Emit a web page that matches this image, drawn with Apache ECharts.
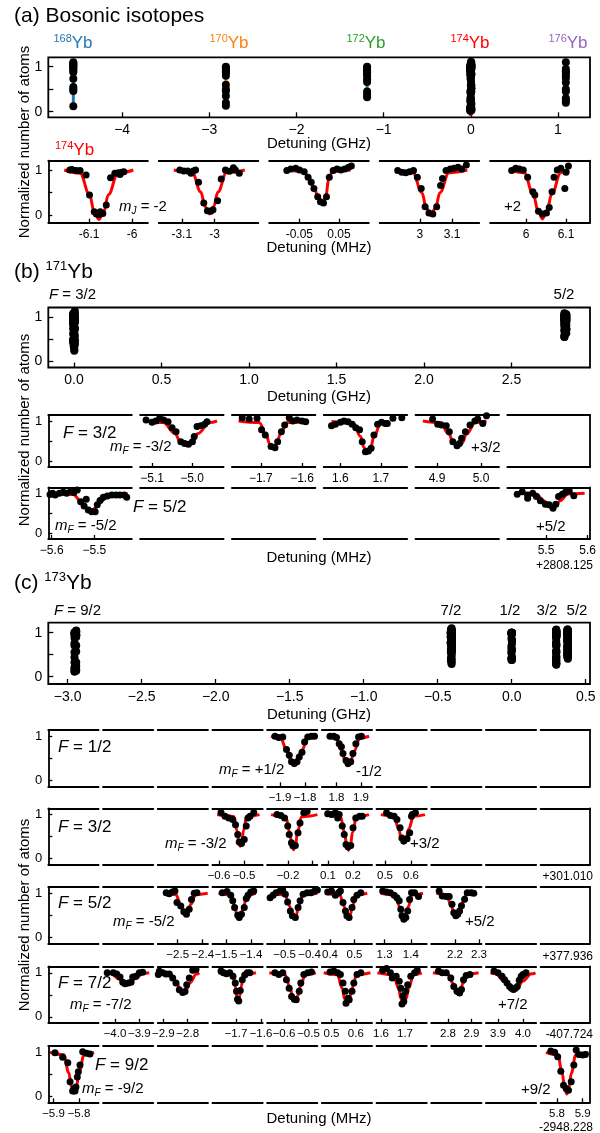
<!DOCTYPE html>
<html>
<head>
<meta charset="utf-8">
<script src="https://cdn.jsdelivr.net/npm/echarts@6/dist/echarts.min.js"></script>
<style>
html, body { margin: 0; padding: 0; background: #fff; }
#chart { width: 600px; height: 1133px; }
</style>
</head>
<body>
<div id="chart"></div>
<script>
// ---------------- data ----------------
const yTickVals = [0, 0.5, 1];
const yTickText = [0, 1];

const aGHzTicks = [-4, -3, -2, -1, 0, 1];
const aGHzLabels = ['−4', '−3', '−2', '−1', '0', '1'];
const bGHzTicks = [0, 0.5, 1, 1.5, 2, 2.5];
const bGHzLabels = ['0.0', '0.5', '1.0', '1.5', '2.0', '2.5'];
const cGHzTicks = [-3, -2.5, -2, -1.5, -1, -0.5, 0, 0.5];
const cGHzLabels = ['−3.0', '−2.5', '−2.0', '−1.5', '−1.0', '−0.5', '0.0', '0.5'];

// (a) bosonic isotopes: column position (GHz) and fit minimum; 174 comes from the m_J scans
const isoMass = ['168', '170', '172', '174', '176'];
const isoPos = [-4.56, -2.81, -1.19, 0, 1.09];
const isoFitMin = [0.04, 0.12, 0.3, null, 0.15];
const yb168 = [1.10, 1.08, 1.05, 1.03, 1.0, 0.98, 0.95, 0.92, 0.88, 0.73, 0.55, 0.50, 0.46, 0.12];
const yb170 = [1.0, 0.98, 0.96, 0.93, 0.90, 0.86, 0.80, 0.60, 0.50, 0.46, 0.35, 0.20, 0.13];
const yb172 = [1.0, 0.98, 0.95, 0.92, 0.88, 0.84, 0.80, 0.72, 0.66, 0.45, 0.38, 0.32];
const yb176 = [1.10, 0.95, 0.90, 0.86, 0.80, 0.75, 0.65, 0.50, 0.45, 0.30, 0.25, 0.20];

// 174Yb m_J scans (MHz, normalized atoms)
const a0Dots = [[-6.145,1.00],[-6.140,1.01],[-6.130,0.99],[-6.121,0.99],[-6.107,0.89],[-6.099,0.45],[-6.088,0.08],[-6.083,0.03],[-6.078,0.02],[-6.074,0.08],[-6.068,0.04],[-6.060,0.23],[-6.050,0.83],[-6.040,0.93],[-6.032,0.94],[-6.028,0.90],[-6.024,0.95],[-6.019,0.96]];
const a0Fit = [[-6.158,1],[-6.121,0.93],[-6.099,0.455],[-6.088,0.08],[-6.077,-0.09],[-6.066,0.08],[-6.055,0.455],[-6.033,0.93],[-5.997,1]];
const a1Dots = [[-3.106,1.00],[-3.094,0.98],[-3.082,0.98],[-3.072,0.93],[-3.065,0.98],[-3.058,1.00],[-3.049,0.73],[-3.033,0.27],[-3.022,0.10],[-3.012,0.09],[-3.005,0.12],[-2.991,0.32],[-2.980,0.80],[-2.967,1.00],[-2.955,0.97],[-2.943,1.05],[-2.937,1.00],[-2.925,0.93]];
const a1Fit = [[-3.124,1],[-3.068,0.94],[-3.042,0.515],[-3.029,0.19],[-3.016,0.03],[-3.003,0.19],[-2.990,0.515],[-2.964,0.94],[-2.908,1]];
const a2Dots = [[-0.0816,0.99],[-0.0718,1.02],[-0.0591,1.04],[-0.0495,1.00],[-0.0378,0.96],[-0.028,0.84],[-0.0201,0.73],[-0.0133,0.59],[-0.0037,0.41],[0.0032,0.30],[0.0108,0.27],[0.0184,0.41],[0.0254,0.84],[0.0353,0.99],[0.0449,1.02],[0.0548,1.00],[0.0646,1.02],[0.074,1.06],[0.081,1.09]];
const a2Fit = [[-0.0865,1],[-0.04,0.97],[-0.025,0.8],[-0.012,0.58],[-0.002,0.38],[0.007,0.24],[0.016,0.4],[0.024,0.78],[0.033,0.97],[0.079,1]];
const a3Dots = [[2.931,0.99],[2.944,0.95],[2.956,0.94],[2.968,0.96],[2.980,0.99],[2.992,0.84],[3.004,0.59],[3.016,0.19],[3.028,0.05],[3.040,0.03],[3.052,0.19],[3.064,0.66],[3.070,0.81],[3.081,0.99],[3.094,1.02],[3.106,1.04],[3.118,1.06],[3.130,1.02],[3.144,1.11]];
const a3Fit = [[2.925,1],[2.978,0.94],[3.006,0.5],[3.020,0.16],[3.034,0.0],[3.048,0.16],[3.062,0.5],[3.090,0.94],[3.147,1]];
const a4Dots = [[5.964,0.99],[5.974,1.04],[5.983,1.02],[5.993,1.00],[6.004,0.84],[6.017,0.52],[6.022,0.45],[6.031,0.09],[6.041,0.03],[6.051,0.05],[6.058,0.17],[6.065,0.52],[6.070,0.84],[6.078,1.00],[6.087,1.04],[6.097,0.59],[6.100,0.95],[6.106,1.09]];
const a4Fit = [[5.959,1],[5.995,0.94],[6.018,0.46],[6.030,0.1],[6.041,-0.08],[6.052,0.1],[6.064,0.46],[6.087,0.94],[6.108,1]];

// 171Yb
const bHyperfineGHz = [0, 2.808125];
const b1Dots = [[-5.115,1.025],[-5.100,0.97],[-5.0905,1.00],[-5.081,1.07],[-5.071,1.025],[-5.060,0.98],[-5.050,0.83],[-5.040,0.73],[-5.028,0.48],[-5.0185,0.44],[-5.009,0.42],[-4.999,0.48],[-4.9945,0.61],[-4.9875,0.86],[-4.978,0.88],[-4.9685,0.92],[-4.9625,0.98]];
const b1Fit = [[-5.12,1],[-5.072,0.96],[-5.043,0.69],[-5.029,0.48],[-5.014,0.38],[-4.999,0.48],[-4.985,0.69],[-4.956,0.96],[-4.9375,1]];
const b2Dots = [[-1.745,1.08],[-1.728,1.05],[-1.709,1.07],[-1.698,0.78],[-1.689,0.65],[-1.675,0.36],[-1.6655,0.33],[-1.659,0.48],[-1.650,0.73],[-1.642,0.90],[-1.631,1.08],[-1.622,1.00],[-1.612,1.025],[-1.600,1.00],[-1.591,0.98]];
const b2Fit = [[-1.754,1],[-1.704,0.96],[-1.687,0.665],[-1.679,0.44],[-1.670,0.33],[-1.661,0.44],[-1.653,0.665],[-1.636,0.96],[-1.586,1]];
const b3Dots = [[1.578,0.88],[1.5876,0.92],[1.600,0.97],[1.609,1.00],[1.619,0.98],[1.629,0.92],[1.638,0.83],[1.6475,0.78],[1.654,0.48],[1.662,0.23],[1.6695,0.25],[1.676,0.32],[1.683,0.65],[1.692,0.92],[1.702,0.97],[1.711,0.94],[1.716,0.94],[1.730,1.07],[1.752,1.08]];
const b3Fit = [[1.578,0.99],[1.632,0.95],[1.650,0.61],[1.658,0.34],[1.6665,0.22],[1.675,0.34],[1.683,0.61],[1.70,0.95],[1.719,0.99]];
const b4Dots = [[4.890,1.05],[4.9016,0.92],[4.910,0.90],[4.921,0.88],[4.928,0.73],[4.936,0.48],[4.9455,0.38],[4.951,0.44],[4.956,0.57],[4.9645,0.73],[4.975,0.90],[4.986,1.00],[4.9925,1.05],[5.004,0.94],[5.0125,1.13]];
const b4Fit = [[4.868,1],[4.907,0.96],[4.927,0.675],[4.937,0.45],[4.947,0.35],[4.957,0.45],[4.967,0.675],[4.987,0.96],[5.0125,1]];
const b5Dots = [[-5.604,0.97],[-5.598,1.0],[-5.592,0.96],[-5.582,1.00],[-5.573,1.025],[-5.565,1.00],[-5.555,1.06],[-5.548,1.02],[-5.540,1.08],[-5.532,0.79],[-5.524,0.68],[-5.519,0.85],[-5.514,0.58],[-5.506,0.54],[-5.498,0.54],[-5.493,0.71],[-5.4866,0.82],[-5.479,0.90],[-5.4695,0.93],[-5.459,0.96],[-5.449,0.96],[-5.440,0.96],[-5.430,0.96],[-5.424,0.90]];
const b5Fit = [[-5.604,0.99],[-5.55,0.97],[-5.529,0.78],[-5.5185,0.63],[-5.508,0.56],[-5.4975,0.63],[-5.487,0.78],[-5.466,0.97],[-5.421,0.99]];
const b6Dots = [[5.431,0.975],[5.443,1.04],[5.456,0.96],[5.456,0.875],[5.468,1.00],[5.477,0.92],[5.4866,0.81],[5.4986,0.725],[5.5077,0.71],[5.5168,0.625],[5.5235,0.725],[5.530,0.92],[5.539,0.975],[5.5465,1.025],[5.5556,1.06],[5.5667,0.94]];
const b6Fit = [[5.4266,1],[5.476,0.98],[5.4954,0.815],[5.505,0.68],[5.5144,0.63],[5.524,0.68],[5.5334,0.815],[5.553,0.98],[5.5926,1]];

// 173Yb, hyperfine centres F = 9/2, 7/2, 1/2, 3/2, 5/2 (GHz)
const cHyperfineGHz = [-2.948228, -0.407724, 0, 0.301010, 0.377936];
const cOffsetText = ['-2948.228', '-407.724', '', '+301.010', '+377.936'];
const c12aDots = [[-1.920,1.00],[-1.905,0.97],[-1.889,0.985],[-1.874,0.70],[-1.863,0.57],[-1.854,0.42],[-1.843,0.38],[-1.832,0.42],[-1.823,0.53],[-1.812,0.64],[-1.8016,0.87],[-1.789,0.985],[-1.774,1.00],[-1.762,1.00]];
const c12aFit = [[-1.936,1],[-1.899,0.96],[-1.871,0.665],[-1.857,0.44],[-1.843,0.33],[-1.829,0.44],[-1.815,0.665],[-1.787,0.96],[-1.758,1]];
const c12bDots = [[1.7735,1.00],[1.789,1.00],[1.800,0.97],[1.811,0.83],[1.820,0.76],[1.8265,0.61],[1.839,0.45],[1.847,0.38],[1.858,0.42],[1.867,0.61],[1.879,0.83],[1.890,0.985],[1.902,1.00]];
const c12bFit = [[1.761,1],[1.798,0.96],[1.8225,0.665],[1.835,0.44],[1.847,0.33],[1.859,0.44],[1.8715,0.665],[1.896,0.96],[1.933,1]];
const c32aDots = [[-0.592,1.05],[-0.576,0.96],[-0.561,0.92],[-0.545,0.89],[-0.534,0.77],[-0.525,0.55],[-0.519,0.38],[-0.510,0.345],[-0.499,0.435],[-0.491,0.74],[-0.484,0.92],[-0.476,0.96],[-0.461,1.05]];
const c32aFit = [[-0.607,1],[-0.541,0.955],[-0.528,0.64],[-0.5215,0.395],[-0.515,0.28],[-0.5085,0.395],[-0.502,0.64],[-0.489,0.955],[-0.438,1]];
const c32bDots = [[-0.245,1.00],[-0.229,0.98],[-0.214,0.92],[-0.201,0.74],[-0.195,0.55],[-0.186,0.36],[-0.180,0.29],[-0.170,0.30],[-0.159,0.59],[-0.151,0.81],[-0.1355,1.04],[-0.122,1.07]];
const c32bFit = [[-0.269,1],[-0.209,0.95],[-0.193,0.6],[-0.185,0.328],[-0.177,0.2],[-0.169,0.328],[-0.161,0.6],[-0.145,0.95],[-0.080,1]];
const c32cDots = [[0.0988,1.02],[0.114,1.00],[0.1296,1.04],[0.1388,0.92],[0.1448,1.00],[0.157,0.74],[0.165,0.55],[0.172,0.32],[0.180,0.27],[0.191,0.30],[0.200,0.70],[0.211,0.92],[0.2264,0.96],[0.237,0.96]];
const c32cFit = [[0.088,1],[0.150,0.95],[0.166,0.595],[0.174,0.32],[0.182,0.19],[0.190,0.32],[0.198,0.595],[0.214,0.95],[0.264,1]];
const c32dDots = [[0.506,1.04],[0.521,0.98],[0.535,0.96],[0.546,0.89],[0.558,0.70],[0.565,0.47],[0.572,0.40],[0.585,0.45],[0.595,0.585],[0.602,0.96],[0.605,1.0],[0.617,1.04]];
const c32dFit = [[0.484,1],[0.534,0.96],[0.553,0.675],[0.5625,0.454],[0.572,0.35],[0.5815,0.454],[0.591,0.675],[0.610,0.96],[0.654,1]];
const c52aDots = [[-2.546,1.015],[-2.534,0.99],[-2.5216,1.03],[-2.511,1.05],[-2.503,0.79],[-2.4876,0.71],[-2.4756,0.58],[-2.465,0.525],[-2.454,0.64],[-2.445,0.86],[-2.434,1.00],[-2.423,1.015]];
const c52aFit = [[-2.557,1],[-2.508,0.97],[-2.488,0.75],[-2.478,0.58],[-2.468,0.5],[-2.458,0.58],[-2.448,0.75],[-2.428,0.97],[-2.38,1]];
const c52bDots = [[-1.5148,1.015],[-1.496,1.04],[-1.481,0.955],[-1.473,0.83],[-1.4656,0.68],[-1.453,0.50],[-1.447,0.45],[-1.438,0.525],[-1.427,0.68],[-1.419,0.88],[-1.412,0.955],[-1.401,1.03],[-1.389,1.05]];
const c52bFit = [[-1.53,1],[-1.482,0.96],[-1.465,0.7],[-1.4565,0.5],[-1.448,0.4],[-1.4395,0.5],[-1.431,0.7],[-1.414,0.96],[-1.381,1]];
const c52cDots = [[-0.558,0.90],[-0.546,0.955],[-0.534,1.015],[-0.518,1.05],[-0.5076,1.075],[-0.497,0.98],[-0.488,0.80],[-0.477,0.60],[-0.469,0.49],[-0.457,0.45],[-0.446,0.68],[-0.438,0.83],[-0.426,0.98],[-0.410,1.015],[-0.395,1.015],[-0.380,1.05],[-0.369,1.075]];
const c52cFit = [[-0.554,1],[-0.498,0.964],[-0.480,0.71],[-0.471,0.51],[-0.462,0.42],[-0.453,0.51],[-0.444,0.71],[-0.426,0.964],[-0.369,1]];
const c52dDots = [[0.3906,1.03],[0.406,1.05],[0.422,0.955],[0.4347,1.015],[0.4424,1.05],[0.453,0.79],[0.463,0.60],[0.469,0.49],[0.478,0.45],[0.4898,0.68],[0.497,0.86],[0.510,0.955],[0.5257,1.015]];
const c52dFit = [[0.3796,1],[0.440,0.964],[0.457,0.71],[0.4655,0.51],[0.474,0.42],[0.4825,0.51],[0.491,0.71],[0.508,0.964],[0.552,1]];
const c52eDots = [[1.2927,1.05],[1.3073,1.03],[1.322,1.015],[1.3366,0.955],[1.3473,0.90],[1.3557,0.83],[1.3618,0.64],[1.3664,0.49],[1.3733,0.41],[1.381,0.45],[1.388,0.60],[1.3954,0.86],[1.4027,1.015],[1.4145,1.015],[1.4294,0.925]];
const c52eFit = [[1.2855,1],[1.3415,0.96],[1.3575,0.69],[1.3655,0.48],[1.3735,0.38],[1.3815,0.48],[1.3895,0.69],[1.4055,0.96],[1.4466,1]];
const c52fDots = [[2.134,1.05],[2.147,0.94],[2.1633,0.925],[2.1758,0.925],[2.1875,0.75],[2.195,0.56],[2.2033,0.49],[2.2113,0.525],[2.219,0.60],[2.227,0.715],[2.240,0.865],[2.251,1.015],[2.2675,1.015],[2.278,1.00]];
const c52fFit = [[2.123,1],[2.163,0.967],[2.184,0.735],[2.1945,0.555],[2.205,0.47],[2.2155,0.555],[2.226,0.735],[2.247,0.967],[2.292,1]];
const c72aDots = [[-4.032,1.00],[-4.007,1.00],[-3.993,0.975],[-3.9794,0.906],[-3.968,0.783],[-3.9588,0.753],[-3.945,0.768],[-3.934,0.783],[-3.927,0.906],[-3.9136,0.92],[-3.900,1.00],[-3.886,1.014]];
const c72aFit = [[-4.034,1],[-4.017,0.983],[-3.984,0.865],[-3.9675,0.773],[-3.951,0.73],[-3.9345,0.773],[-3.918,0.865],[-3.885,0.983],[-3.859,1]];
const c72bDots = [[-2.9205,0.96],[-2.9164,1.037],[-2.9025,1.00],[-2.889,0.975],[-2.8754,0.975],[-2.8615,0.883],[-2.848,0.768],[-2.8344,0.614],[-2.8205,0.553],[-2.811,0.576],[-2.804,0.73],[-2.7934,0.883],[-2.7795,1.06],[-2.766,1.075]];
const c72bFit = [[-2.927,1],[-2.872,0.972],[-2.845,0.775],[-2.8315,0.622],[-2.818,0.55],[-2.8045,0.622],[-2.791,0.775],[-2.764,0.972],[-2.7525,1]];
const c72cDots = [[-1.76,1.04],[-1.75,1.0],[-1.738,0.98],[-1.725,1.0],[-1.712,0.92],[-1.703,0.77],[-1.698,0.58],[-1.694,0.40],[-1.689,0.36],[-1.683,0.60],[-1.675,0.84],[-1.665,0.95],[-1.655,1.0],[-1.645,1.0]];
const c72cFit = [[-1.77,1],[-1.713,0.96],[-1.702,0.675],[-1.6965,0.454],[-1.691,0.35],[-1.6855,0.454],[-1.68,0.675],[-1.669,0.96],[-1.62,1]];
const c72dDots = [[-0.637,1.00],[-0.621,0.96],[-0.605,1.00],[-0.590,0.84],[-0.579,0.65],[-0.569,0.46],[-0.558,0.40],[-0.550,0.385],[-0.538,0.58],[-0.5314,0.77],[-0.519,0.96],[-0.503,1.00],[-0.488,1.02]];
const c72dFit = [[-0.66,1],[-0.597,0.96],[-0.576,0.685],[-0.5655,0.47],[-0.555,0.37],[-0.5445,0.47],[-0.534,0.685],[-0.513,0.96],[-0.47,1]];
const c72eDots = [[0.4938,1.02],[0.5095,1.04],[0.5255,1.00],[0.5366,0.96],[0.5473,0.77],[0.557,0.58],[0.5597,0.31],[0.5679,0.42],[0.5728,0.385],[0.5844,0.58],[0.5918,0.77],[0.605,0.96],[0.6206,1.00]];
const c72eFit = [[0.468,1],[0.524,0.956],[0.544,0.65],[0.554,0.412],[0.564,0.3],[0.574,0.412],[0.584,0.65],[0.604,0.956],[0.66,1]];
const c72fDots = [[1.607,1.06],[1.623,1.10],[1.639,1.00],[1.647,0.88],[1.6633,0.92],[1.676,0.81],[1.6825,0.65],[1.6875,0.29],[1.6917,0.48],[1.695,0.35],[1.7033,0.58],[1.711,0.73],[1.724,0.92],[1.740,1.00],[1.751,1.06]];
const c72fFit = [[1.585,1],[1.652,0.956],[1.673,0.65],[1.6835,0.412],[1.694,0.3],[1.7045,0.412],[1.715,0.65],[1.736,0.956],[1.77,1]];
const c72gDots = [[2.7596,1.04],[2.7757,1.00],[2.7923,1.00],[2.812,0.88],[2.8247,0.69],[2.8383,0.58],[2.8494,0.54],[2.8574,0.62],[2.866,0.84],[2.8774,0.94],[2.8936,0.96]];
const c72gFit = [[2.736,1],[2.8006,0.97],[2.8216,0.76],[2.8321,0.597],[2.8426,0.52],[2.8531,0.597],[2.8636,0.76],[2.8846,0.97],[2.93,1]];
const c72hDots = [[3.884,1.04],[3.9,1.00],[3.916,0.92],[3.9264,0.84],[3.936,0.77],[3.9464,0.69],[3.954,0.65],[3.962,0.62],[3.9696,0.65],[3.977,0.69],[3.9848,0.83],[3.9928,0.92],[4.0,0.96],[4.012,1.00]];
const c72hFit = [[3.87,1],[3.89,0.976],[3.926,0.81],[3.944,0.68],[3.962,0.62],[3.98,0.68],[3.998,0.81],[4.034,0.976],[4.05,1]];
const c92aDots = [[-5.894,0.99],[-5.864,0.885],[-5.844,0.76],[-5.835,0.33],[-5.825,0.12],[-5.8196,0.175],[-5.8157,0.12],[-5.812,0.21],[-5.8067,0.44],[-5.8027,0.557],[-5.796,0.71],[-5.7855,1.01],[-5.77,0.976],[-5.757,0.96]];
const c92aFit = [[-5.913,1],[-5.86,0.942],[-5.84,0.535],[-5.83,0.22],[-5.82,0.07],[-5.81,0.22],[-5.80,0.535],[-5.78,0.942],[-5.741,1]];
const c92bDots = [[5.7759,1.03],[5.7907,1.00],[5.8027,0.90],[5.8148,0.57],[5.8253,0.25],[5.8358,0.175],[5.8447,0.137],[5.8553,0.33],[5.8654,0.71],[5.8747,1.05],[5.8848,0.95],[5.900,0.94],[5.9105,0.95]];
const c92bFit = [[5.757,1],[5.803,0.94],[5.8205,0.525],[5.829,0.2],[5.838,0.05],[5.847,0.2],[5.8555,0.525],[5.873,0.94],[5.9226,1]];

// panel tables: axis extent (MHz), ticks, labels and the data they show
const aPanels = [
  { range: [-6.195, -5.963], ticks: [-6.1, -6], labels: ['-6.1', '-6'], dots: a0Dots, fit: a0Fit },
  { range: [-3.170, -2.867], ticks: [-3.1, -3], labels: ['-3.1', '-3'], dots: a1Dots, fit: a1Fit },
  { range: [-0.126, 0.125], ticks: [-0.05, 0.05], labels: ['-0.05', '0.05'], dots: a2Dots, fit: a2Fit },
  { range: [2.875, 3.184], ticks: [3, 3.1], labels: ['3', '3.1'], dots: a3Dots, fit: a3Fit },
  { range: [5.91, 6.16], ticks: [6, 6.1], labels: ['6', '6.1'], dots: a4Dots, fit: a4Fit }
];
const bRow32 = [null,
  { range: [-5.130, -4.921], ticks: [-5.1, -5.0], labels: ['−5.1', '−5.0'], dots: b1Dots, fit: b1Fit },
  { range: [-1.770, -1.5675], ticks: [-1.7, -1.6], labels: ['−1.7', '−1.6'], dots: b2Dots, fit: b2Fit },
  { range: [1.5587, 1.7653], ticks: [1.6, 1.7], labels: ['1.6', '1.7'], dots: b3Dots, fit: b3Fit },
  { range: [4.8511, 5.0409], ticks: [4.9, 5.0], labels: ['4.9', '5.0'], dots: b4Dots, fit: b4Fit },
  null];
const bRow52 = [
  { range: [-5.608, -5.412], ticks: [-5.6, -5.5], labels: ['−5.6', '−5.5'], dots: b5Dots, fit: b5Fit },
  null, null, null, null,
  { range: [5.4072, 5.6055], ticks: [5.5, 5.6], labels: ['5.5', '5.6'], dots: b6Dots, fit: b6Fit }];

const cRow12 = [null, null, null, null,
  { range: [-1.9516, -1.7504], ticks: [-1.9, -1.8], labels: ['−1.9', '−1.8'], dots: c12aDots, fit: c12aFit },
  { range: [1.74, 1.9453], ticks: [1.8, 1.9], labels: ['1.8', '1.9'], dots: c12bDots, fit: c12bFit },
  null, null, null, null];
const cRow32 = [null, null, null,
  { range: [-0.6264, -0.4252], ticks: [-0.6, -0.5], labels: ['−0.6', '−0.5'], dots: c32aDots, fit: c32aFit },
  { range: [-0.2853, -0.08], ticks: [-0.2, -0.1], labels: ['−0.2', ''], dots: c32bDots, fit: c32bFit },
  { range: [0.0752, 0.2764], ticks: [0.1, 0.2], labels: ['0.1', '0.2'], dots: c32cDots, fit: c32cFit },
  { range: [0.4673, 0.6608], ticks: [0.5, 0.6], labels: ['0.5', '0.6'], dots: c32dDots, fit: c32dFit },
  null, null, null];
const cRow52 = [null, null,
  { range: [-2.58, -2.3788], ticks: [-2.5, -2.4], labels: ['−2.5', '−2.4'], dots: c52aDots, fit: c52aFit },
  { range: [-1.5544, -1.3532], ticks: [-1.5, -1.4], labels: ['−1.5', '−1.4'], dots: c52bDots, fit: c52bFit },
  { range: [-0.57, -0.3688], ticks: [-0.5, -0.4], labels: ['−0.5', '−0.4'], dots: c52cDots, fit: c52cFit },
  { range: [0.3665, 0.5718], ticks: [0.4, 0.5], labels: ['0.4', '0.5'], dots: c52dDots, fit: c52dFit },
  { range: [1.2691, 1.461], ticks: [1.3, 1.4], labels: ['1.3', '1.4'], dots: c52eDots, fit: c52eFit },
  { range: [2.1008, 2.3104], ticks: [2.2, 2.3], labels: ['2.2', '2.3'], dots: c52fDots, fit: c52fFit },
  null, null];
const cRow72 = [null,
  { range: [-4.0494, -3.8424], ticks: [-4.0, -3.9], labels: ['−4.0', '−3.9'], dots: c72aDots, fit: c72aFit },
  { range: [-2.923, -2.7168], ticks: [-2.9, -2.8], labels: ['−2.9', '−2.8'], dots: c72bDots, fit: c72bFit },
  { range: [-1.7944, -1.5932], ticks: [-1.7, -1.6], labels: ['−1.7', '−1.6'], dots: c72cDots, fit: c72cFit },
  { range: [-0.669, -0.4637], ticks: [-0.6, -0.5], labels: ['−0.6', '−0.5'], dots: c72dDots, fit: c72dFit },
  { range: [0.4601, 0.667], ticks: [0.5, 0.6], labels: ['0.5', '0.6'], dots: c72eDots, fit: c72eFit },
  { range: [1.5813, 1.7908], ticks: [1.6, 1.7], labels: ['1.6', '1.7'], dots: c72fDots, fit: c72fFit },
  { range: [2.7285, 2.9426], ticks: [2.8, 2.9], labels: ['2.8', '2.9'], dots: c72gDots, fit: c72gFit },
  { range: [3.8516, 4.0528], ticks: [3.9, 4.0], labels: ['3.9', '4.0'], dots: c72hDots, fit: c72hFit },
  null];
const cRow92 = [
  { range: [-5.9204, -5.7231], ticks: [-5.9, -5.8], labels: ['−5.9', '−5.8'], dots: c92aDots, fit: c92aFit },
  null, null, null, null, null, null, null, null,
  { range: [5.7362, 5.9284], ticks: [5.8, 5.9], labels: ['5.8', '5.9'], dots: c92bDots, fit: c92bFit }];

// ---------------- building the option ----------------
const FONT = '"Liberation Sans", Arial, Helvetica, sans-serif';
const BLACK = '#000';
const RED = '#ff0000';
const isoColors = ['#1f77b4', '#ff7f0e', '#2ca02c', '#ff0000', '#9467bd'];

const grids = [], xAxes = [], yAxes = [], series = [], texts = [];

function pick(ticks, labels, v) {
  for (let i = 0; i < ticks.length; i++) {
    if (Math.abs(ticks[i] - v) < 1e-7) return labels[i];
  }
  return '';
}

function panel(o) {
  const gi = grids.length;
  const spine = { color: BLACK, width: 1.8 };
  const tickStyle = { color: BLACK, width: 1.3 };
  grids.push({
    left: o.left, top: o.top, width: o.width, height: o.height,
    show: !!o.box, borderColor: BLACK, borderWidth: 1.8, backgroundColor: 'rgba(0,0,0,0)',
    containLabel: false, outerBoundsMode: 'none'
  });
  const ticks = o.ticks || [];
  const labels = o.labels || [];
  const xi = xAxes.length;
  xAxes.push({
    gridIndex: gi, type: 'value', min: o.xr[0], max: o.xr[1], position: 'bottom',
    axisLine: { show: !o.box, onZero: false, lineStyle: spine },
    axisTick: { show: ticks.length > 0, inside: true, length: o.tickLen || 4, customValues: ticks, lineStyle: tickStyle },
    axisLabel: {
      show: ticks.length > 0, customValues: ticks, formatter: v => pick(ticks, labels, v),
      margin: o.margin || 5, fontSize: o.fs || 12, color: BLACK, fontFamily: FONT
    },
    splitLine: { show: false }
  });
  xAxes.push({
    gridIndex: gi, type: 'value', min: o.xr[0], max: o.xr[1], position: 'top',
    axisLine: { show: !o.box, onZero: false, lineStyle: spine },
    axisTick: { show: false }, axisLabel: { show: false }, splitLine: { show: false }
  });
  const yi = yAxes.length;
  yAxes.push({
    gridIndex: gi, type: 'value', min: o.yr[0], max: o.yr[1], position: 'left',
    axisLine: { show: !!o.yaxis && !o.box, onZero: false, lineStyle: spine },
    axisTick: { show: !!o.yaxis, inside: true, length: o.tickLen || 4, customValues: yTickVals, lineStyle: tickStyle },
    axisLabel: {
      show: !!o.yaxis, customValues: yTickText, formatter: v => String(Math.round(v)),
      margin: 6, fontSize: o.yfs || 13, color: BLACK, fontFamily: FONT
    },
    splitLine: { show: false }
  });
  if (o.right) {
    yAxes.push({
      gridIndex: gi, type: 'value', min: o.yr[0], max: o.yr[1], position: 'right',
      axisLine: { show: true, onZero: false, lineStyle: spine },
      axisTick: { show: false }, axisLabel: { show: false }, splitLine: { show: false }
    });
  }
  return { xi, yi };
}

function fitLine(ax, data, color, width, smooth) {
  series.push({
    type: 'line', xAxisIndex: ax.xi, yAxisIndex: ax.yi, data,
    smooth: smooth ? 0.4 : false, smoothMonotone: 'x',
    symbol: 'none', showSymbol: false,
    lineStyle: { color, width, opacity: 1 }, z: 2, silent: true, animation: false
  });
}

function dotSeries(ax, data, size) {
  series.push({
    type: 'scatter', xAxisIndex: ax.xi, yAxisIndex: ax.yi, data,
    symbol: 'circle', symbolSize: size, itemStyle: { color: BLACK, opacity: 1 },
    z: 3, silent: true, animation: false
  });
}

function label(x, y, text, o) {
  o = o || {};
  const fs = o.fs || 15;
  const fill = o.color || BLACK;
  const align = o.align || 'left';
  const supFs = o.supFs || Math.round(fs * 0.62);
  const subFs = Math.round(fs * 0.66);
  texts.push({
    type: 'text', x, y, rotation: o.rot || 0, silent: true, z: 20,
    style: {
      text, fill, fontSize: fs, fontFamily: FONT,
      align, verticalAlign: 'middle', textAlign: align, textVerticalAlign: 'middle',
      rich: {
        n: { fontSize: fs, fontFamily: FONT, fill, lineHeight: Math.round(fs * 1.2) },
        i: { fontSize: fs, fontFamily: FONT, fontStyle: 'italic', fill, lineHeight: Math.round(fs * 1.2) },
        sub: { fontSize: subFs, fontFamily: FONT, fontStyle: 'italic', fill, lineHeight: subFs, verticalAlign: 'bottom' },
        sup: { fontSize: supFs, fontFamily: FONT, fill, lineHeight: supFs, verticalAlign: 'top' }
      }
    }
  });
}

// map a sub-panel scan (MHz) onto the GHz overview at a given centre
const toGHz = (pts, centre) => pts.map(([x, y]) => [centre + x / 1000, y]);

function overviewGroup(ax, panels, centre) {
  const used = panels.filter(Boolean);
  used.forEach(p => fitLine(ax, toGHz(p.fit, centre), RED, 3, false));
  dotSeries(ax, [].concat(...used.map(p => toGHz(p.dots, centre))), 8);
}

// small-panel rows
function smallRow(panels, top, height, yr, colLeft, colStep, colWidth, fs) {
  const n = panels.length;
  panels.forEach((p, i) => {
    const left = colLeft + colStep * i;
    const width = i === n - 1 ? 590 - left : colWidth;
    const ax = panel({
      left, top, width, height,
      xr: p ? p.range : [0, 1], yr,
      ticks: p ? p.ticks : [], labels: p ? p.labels : [],
      yaxis: i === 0, right: i === n - 1, fs: fs, margin: 5.5
    });
    if (p) {
      fitLine(ax, p.fit, RED, 3, true);
      dotSeries(ax, p.dots, 7);
    }
  });
}

// ---- (a) bosonic isotopes ----
const axA = panel({ left: 48.3, top: 57.3, width: 541.7, height: 60, xr: [-4.847, 1.367], yr: [-0.125, 1.21],
  ticks: aGHzTicks, labels: aGHzLabels, box: true, yaxis: true, fs: 14, yfs: 14, margin: 6, tickLen: 5 });
const isoDots = [yb168, yb170, yb172, null, yb176];
isoMass.forEach((m, k) => {
  if (isoDots[k]) {
    fitLine(axA, [[isoPos[k], 1], [isoPos[k], isoFitMin[k]]], isoColors[k], 3, false);
    dotSeries(axA, isoDots[k].map(y => [isoPos[k], y]), 8);
  }
});
overviewGroup(axA, aPanels, isoPos[3]);
smallRow(aPanels, 160.7, 62, [-0.163, 1.205], 48.3, 110.45, 99.6, 12);

// ---- (b) 171Yb ----
const axB = panel({ left: 48.3, top: 307.5, width: 541.7, height: 60, xr: [-0.147, 2.949], yr: [-0.151, 1.212],
  ticks: bGHzTicks, labels: bGHzLabels, box: true, yaxis: true, fs: 14, yfs: 14, margin: 6, tickLen: 5 });
overviewGroup(axB, bRow32, bHyperfineGHz[0]);
overviewGroup(axB, bRow52, bHyperfineGHz[1]);
smallRow(bRow32, 415, 52, [-0.15, 1.15], 48.3, 91.8, 83.5, 12);
smallRow(bRow52, 487.3, 51.7, [-0.145, 1.15], 48.3, 91.8, 83.5, 12);

// ---- (c) 173Yb ----
const axC = panel({ left: 48.3, top: 622.7, width: 541.7, height: 61.3, xr: [-3.131, 0.529], yr: [-0.166, 1.227],
  ticks: cGHzTicks, labels: cGHzLabels, box: true, yaxis: true, fs: 14, yfs: 14, margin: 6, tickLen: 5 });
const cRows = [cRow92, cRow72, cRow12, cRow32, cRow52];
cRows.forEach((row, k) => overviewGroup(axC, row, cHyperfineGHz[k]));
const cRowTop = [730, 808.3, 887, 966.5, 1046];
[cRow12, cRow32, cRow52, cRow72, cRow92].forEach((row, k) =>
  smallRow(row, cRowTop[k], 56.3, [-0.136, 1.143], 48.3, 54.7, 50.3, 11.5));

// ---------------- texts ----------------
// (a)
label(14, 16, '(a) Bosonic isotopes', { fs: 21 });
const isoLabelX = [73, 229, 366, 470, 568];
isoMass.forEach((m, k) => label(isoLabelX[k], 43, '{sup|' + m + '}{n|Yb}', { fs: 17, supFs: 11, color: isoColors[k], align: 'center' }));
label(319, 144, 'Detuning (GHz)', { align: 'center' });
label(55, 150, '{sup|174}{n|Yb}', { fs: 17, supFs: 11, color: RED });
label(119, 207, '{i|m}{sub|J}{n| = -2}');
label(504, 207, '+2');
label(319, 248, 'Detuning (MHz)', { align: 'center' });
label(25, 142, 'Normalized number of atoms', { align: 'center', rot: Math.PI / 2 });

// (b)
label(14, 272, '{n|(b) }{sup|171}{n|Yb}', { fs: 21, supFs: 13 });
label(49, 295, '{i|F}{n| = 3/2}');
label(564, 295, '5/2', { align: 'center' });
label(319, 397, 'Detuning (GHz)', { align: 'center' });
label(63, 433, '{i|F}{n| = 3/2}', { fs: 17 });
label(110, 447, '{i|m}{sub|F}{n| = -3/2}');
label(471, 448, '+3/2');
label(133, 507, '{i|F}{n| = 5/2}', { fs: 17 });
label(55, 526, '{i|m}{sub|F}{n| = -5/2}');
label(536, 527, '+5/2');
label(319, 558, 'Detuning (MHz)', { align: 'center' });
label(593, 566, '+2808.125', { fs: 12, align: 'right' });
label(25, 430, 'Normalized number of atoms', { align: 'center', rot: Math.PI / 2 });

// (c)
label(14, 583, '{n|(c) }{sup|173}{n|Yb}', { fs: 21, supFs: 13 });
label(54, 611, '{i|F}{n| = 9/2}');
label(451, 611, '7/2', { align: 'center' });
label(510, 611, '1/2', { align: 'center' });
label(547, 611, '3/2', { align: 'center' });
label(577, 611, '5/2', { align: 'center' });
label(319, 715, 'Detuning (GHz)', { align: 'center' });

label(58, 747, '{i|F}{n| = 1/2}', { fs: 17 });
label(219, 770, '{i|m}{sub|F}{n| = +1/2}');
label(356, 772, '-1/2');
label(58, 827, '{i|F}{n| = 3/2}', { fs: 17 });
label(165, 844, '{i|m}{sub|F}{n| = -3/2}');
label(410, 844, '+3/2');
label(593, 877, cOffsetText[3], { fs: 12, align: 'right' });
label(58, 903, '{i|F}{n| = 5/2}', { fs: 17 });
label(113, 922, '{i|m}{sub|F}{n| = -5/2}');
label(465, 922, '+5/2');
label(593, 957, cOffsetText[4], { fs: 12, align: 'right' });
label(58, 983, '{i|F}{n| = 7/2}', { fs: 17 });
label(70, 1005, '{i|m}{sub|F}{n| = -7/2}');
label(498, 1005, '+7/2');
label(593, 1035, cOffsetText[1], { fs: 12, align: 'right' });
label(95, 1065, '{i|F}{n| = 9/2}', { fs: 17 });
label(82, 1089, '{i|m}{sub|F}{n| = -9/2}');
label(521, 1090, '+9/2');
label(319, 1119, 'Detuning (MHz)', { align: 'center' });
label(593, 1128, cOffsetText[0], { fs: 12, align: 'right' });
label(25, 915, 'Normalized number of atoms', { align: 'center', rot: Math.PI / 2 });

const chart = echarts.init(document.getElementById('chart'));
chart.setOption({
  backgroundColor: '#fff',
  animation: false,
  textStyle: { fontFamily: FONT },
  grid: grids,
  xAxis: xAxes,
  yAxis: yAxes,
  series: series,
  graphic: { elements: texts }
});
window.addEventListener('resize', () => chart.resize());
</script>
</body>
</html>
